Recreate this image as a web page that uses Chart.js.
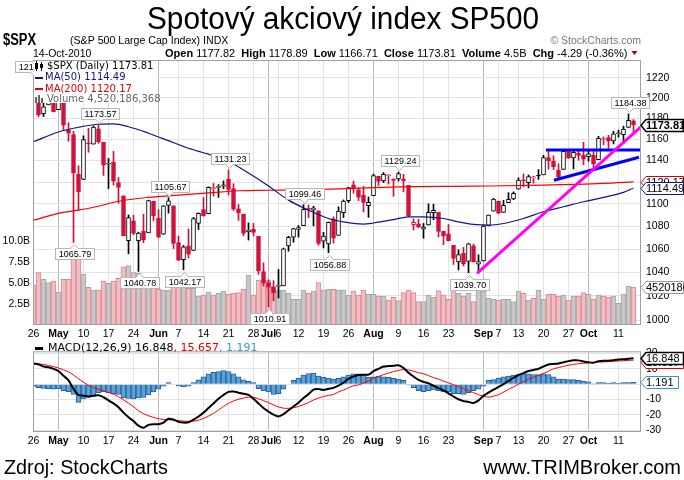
<!DOCTYPE html>
<html>
<head>
<meta charset="utf-8">
<title>SPX</title>
<script src="https://cdn.jsdelivr.net/npm/chart.js@4.4.1/dist/chart.umd.min.js"></script>
<style>
  html, body { margin: 0; padding: 0; background: #fff; }
  #page { position: relative; width: 684px; height: 480px; overflow: hidden; background: #fff; }
  .box { position: absolute; left: 0; width: 684px; }
</style>
</head>
<body>
<div id="page">
  <div class="box" style="top:0;height:340px"><canvas id="priceChart"></canvas></div>
  <div class="box" style="top:340px;height:140px"><canvas id="macdChart"></canvas></div>
</div>
<script>
// --- data (26 Apr 2010 .. 14 Oct 2010, one entry per trading day) ---
const prevClose = 1217.28;
const opens = [1217.1,1209.9,1184.6,1193.3,1206.8,1188.6,1197.5,1169.2,1164.4,1127.0,
  1122.3,1156.4,1155.4,1170.0,1157.2,1136.5,1138.5,1119.6,1107.3,1067.3,
  1084.8,1067.4,1075.5,1074.3,1102.6,1087.3,1073.0,1098.8,1098.4,1065.8,
  1050.8,1062.8,1058.8,1082.7,1095.0,1091.2,1114.0,1115.0,1116.2,1122.8,
  1113.9,1095.6,1090.9,1075.1,1077.5,1071.1,1040.6,1031.1,1027.7,1028.1,
  1028.5,1062.9,1070.5,1077.2,1080.7,1095.6,1094.5,1093.9,1066.9,1064.5,
  1086.7,1072.1,1092.2,1102.9,1117.4,1112.8,1108.1,1098.4,1107.5,1125.3,
  1121.1,1125.8,1122.1,1122.8,1122.9,1116.9,1081.5,1082.2,1077.5,1081.2,
  1092.1,1092.4,1075.6,1073.4,1063.2,1048.9,1056.3,1049.3,1062.9,1046.9,
  1049.7,1080.7,1093.6,1102.6,1092.4,1101.2,1104.6,1113.4,1121.2,1119.4,
  1123.9,1126.4,1126.6,1142.8,1139.5,1131.1,1131.7,1148.6,1142.3,1146.8,
  1145.0,1143.5,1145.0,1140.7,1159.8,1161.6,1158.4,1165.3,1164.3,1171.3,
  1177.82];
const highs = [1219.8,1211.4,1195.0,1209.4,1207.9,1205.1,1197.5,1175.9,1167.6,1135.1,
  1163.3,1170.5,1172.9,1173.57,1157.2,1141.9,1148.7,1124.3,1107.3,1090.2,
  1089.9,1074.8,1090.8,1103.5,1102.6,1094.8,1098.6,1105.67,1098.4,1071.4,
  1063.2,1077.7,1087.9,1092.0,1105.9,1115.6,1118.7,1117.7,1121.1,1131.23,
  1118.5,1099.6,1090.9,1083.1,1082.6,1071.1,1048.1,1033.6,1032.9,1042.5,
  1060.9,1071.3,1078.2,1080.8,1099.46,1099.1,1098.0,1093.9,1074.7,1083.9,
  1088.5,1097.5,1103.7,1115.0,1120.9,1114.7,1115.9,1106.4,1127.3,1125.4,
  1128.8,1126.6,1123.1,1129.24,1127.2,1116.9,1086.7,1086.3,1082.6,1100.1,
  1099.8,1092.4,1075.6,1081.6,1063.2,1059.4,1061.5,1065.2,1064.4,1055.1,
  1081.3,1090.1,1105.1,1102.6,1103.3,1110.3,1110.9,1123.9,1127.4,1126.5,
  1125.4,1131.5,1144.9,1148.6,1144.4,1136.8,1148.9,1149.9,1150.0,1148.6,
  1157.2,1150.3,1148.2,1162.8,1162.3,1163.9,1167.7,1168.7,1172.6,1184.38,
  1178.89];
const lows = [1211.1,1181.6,1181.8,1193.3,1186.3,1188.6,1168.1,1158.2,1065.79,1094.2,
  1122.3,1147.7,1155.4,1156.1,1126.1,1114.0,1117.2,1100.7,1071.6,1055.9,
  1072.7,1040.78,1065.6,1074.3,1084.8,1069.9,1072.9,1091.8,1060.5,1049.9,
  1042.17,1052.3,1058.8,1077.2,1089.0,1091.2,1107.1,1105.9,1113.9,1108.2,
  1094.2,1085.3,1071.6,1067.9,1071.5,1038.2,1028.3,1010.91,1015.9,1018.4,
  1028.5,1058.2,1066.0,1070.5,1080.7,1087.7,1080.5,1063.3,1061.1,1056.88,
  1065.3,1072.1,1087.9,1101.3,1109.8,1103.1,1092.8,1088.0,1107.5,1116.8,
  1119.5,1118.1,1107.0,1120.9,1111.0,1088.6,1076.7,1079.0,1069.5,1081.2,
  1085.8,1070.7,1063.9,1067.1,1046.7,1042.0,1045.4,1039.70,1048.8,1040.9,
  1049.7,1080.4,1093.6,1091.2,1092.4,1101.2,1103.9,1113.4,1115.6,1114.6,
  1118.9,1122.4,1126.6,1131.9,1131.6,1122.8,1131.7,1142.0,1132.1,1140.3,
  1136.1,1139.4,1131.9,1140.7,1154.9,1151.4,1155.6,1162.0,1155.7,1171.3,
  1166.71];
const closes = [1212.1,1183.7,1191.4,1206.8,1186.7,1202.3,1173.6,1165.9,1128.2,1110.9,
  1159.7,1155.8,1171.7,1157.4,1135.7,1136.9,1120.8,1115.1,1071.6,1087.7,
  1073.7,1074.0,1068.0,1103.1,1089.4,1070.7,1098.4,1102.8,1064.9,1050.5,
  1062.0,1055.7,1086.8,1091.6,1089.6,1115.2,1114.6,1116.0,1117.5,1113.2,
  1095.3,1092.0,1073.7,1076.8,1074.6,1041.2,1030.7,1027.4,1022.6,1028.1,
  1060.3,1070.3,1078.0,1078.8,1095.3,1095.2,1096.5,1064.9,1071.3,1083.5,
  1069.6,1093.7,1102.7,1115.0,1113.8,1106.1,1101.5,1101.6,1125.9,1120.5,
  1127.2,1125.8,1121.6,1127.8,1121.1,1089.5,1083.6,1079.3,1079.4,1092.5,
  1094.2,1075.6,1071.7,1067.4,1051.9,1055.3,1047.2,1064.6,1048.9,1049.3,
  1080.3,1090.1,1104.5,1091.8,1098.9,1104.2,1109.6,1121.9,1121.1,1125.1,
  1124.7,1125.6,1142.7,1139.8,1134.3,1124.8,1148.7,1142.2,1147.7,1144.7,
  1141.2,1146.2,1137.0,1160.8,1160.0,1158.1,1165.2,1165.3,1169.8,1178.1,
  1173.81];
// volume in billions of shares
const volumes = [4.76,6.23,5.43,5.04,5.24,3.93,5.43,5.43,8.0,7.9,
  6.03,4.48,4.17,4.17,5.24,4.96,5.24,5.55,6.94,7.06,
  6.23,6.15,5.24,4.36,4.36,4.25,4.17,4.17,4.88,4.88,
  4.88,4.36,4.36,3.45,3.57,3.93,3.57,3.77,4.05,3.65,
  3.77,3.85,4.25,5.95,3.57,5.36,5.36,5.3,4.48,4.17,
  4.17,3.77,3.05,3.05,4.17,3.77,4.05,5.04,4.17,4.25,
  4.25,4.2,4.17,3.57,4.05,3.57,4.17,3.65,3.65,3.45,
  3.45,2.98,3.3,2.9,3.85,4.17,3.85,2.78,2.78,3.57,
  3.3,4.1,3.57,3.05,3.97,3.77,3.45,3.77,2.78,4.17,
  4.05,3.17,3.05,2.98,3.05,3.05,2.78,4.05,3.77,2.98,
  3.17,4.17,3.05,3.65,3.65,3.45,3.57,2.98,3.45,3.45,
  3.85,3.65,3.05,3.57,3.45,3.3,3.45,2.58,3.69,4.64,
  4.52];

// moving averages, read at selected days
const ma50Day = [0,5,9,13,16,19,23,27,31,35,39,43,47,51,55,59,62,66,68,72,75,78,82,85,88,91,94,98,102,106,110,114,118,120];
const ma50 = [1157.6,1167,1171.5,1174.4,1174.7,1172,1165.8,1158.7,1151.5,1145.9,1139,1128.3,1116.4,1103.5,1094.5,1087,1084,1082,1083,1086,1088.5,1088.5,1087,1084,1081.7,1081,1082.5,1087,1093,1097.5,1102,1106,1110.5,1114.49];
const ma200Day = [0,5,9,13,17,23,29,35,41,47,53,61,73,88,102,114,120];
const ma200 = [1085.5,1091.5,1094.5,1098,1102.5,1106,1108,1110,1112,1112.5,1112.8,1113.8,1115.5,1116.2,1117.1,1118.7,1120.17];

// hand-drawn trendlines [day, price]
const resistLine = [[102.5, 1149.8], [121.5, 1149.8]];
const risingLine = [[104.1, 1121.7], [121.1, 1143.0]];
const trendLine = [[88.7, 1039.1], [121.5, 1172.0]];

// MACD(12,26,9)
const macd = [13.5,13.0,11.5,11.0,10.0,8.5,5.5,2.5,-3.0,-7.0,
  -7.5,-8.0,-7.5,-7.2,-8.5,-10.5,-12.5,-15.0,-18.5,-21.5,
  -24.0,-27.0,-28.3,-26.5,-26.0,-26.0,-25.0,-22.5,-23.0,-24.5,
  -25.0,-24.8,-23.0,-21.0,-18.5,-15.5,-12.5,-9.5,-7.0,-5.0,
  -4.8,-5.5,-6.2,-7.0,-9.5,-12.5,-15.5,-17.8,-19.8,-21.0,
  -19.5,-17.0,-14.5,-12.0,-9.0,-6.5,-3.5,-3.2,-3.8,-3.0,
  -2.4,-1.0,1.0,3.5,5.0,6.0,6.2,6.2,8.5,10.0,
  11.5,11.8,12.0,12.3,10.5,7.5,5.0,2.8,1.5,0.5,
  -1.0,-2.5,-4.0,-6.0,-8.0,-9.8,-11.0,-11.5,-12.3,-10.5,
  -7.5,-5.5,-3.5,-1.8,0.0,2.2,4.2,6.0,7.2,8.6,
  9.3,10.0,11.5,12.8,13.2,13.5,14.2,15.0,15.6,15.5,
  14.8,14.3,14.0,15.0,15.3,15.3,15.6,16.1,16.3,16.6,
  16.848];
const signal = [13.5,13.2,12.8,12.2,11.4,10.5,9.4,8.0,6.0,3.5,
  1.3,-0.8,-2.3,-3.3,-4.3,-5.3,-6.6,-8.1,-10.2,-12.4,
  -14.6,-17.3,-19.2,-20.5,-21.6,-22.5,-23.0,-23.2,-23.4,-23.7,
  -24.0,-24.2,-24.0,-23.4,-22.3,-20.8,-19.0,-16.8,-14.5,-12.5,
  -10.9,-9.8,-9.0,-8.5,-8.5,-9.5,-10.7,-12.0,-13.5,-14.8,
  -15.6,-15.7,-15.3,-14.5,-13.3,-11.9,-10.3,-9.0,-8.0,-7.3,
  -6.7,-5.0,-3.8,-2.3,-1.0,-0.5,0.8,2.0,3.8,5.0,
  6.2,7.2,8.2,9.0,9.5,9.3,8.4,7.5,6.8,5.6,
  4.3,3.3,2.0,0.8,-0.3,-1.6,-3.0,-4.3,-5.5,-6.8,
  -7.8,-8.4,-7.8,-6.8,-5.2,-3.3,-1.7,0.0,1.7,3.2,
  4.5,5.7,7.0,8.5,10.0,10.8,11.6,12.3,12.9,13.3,
  13.6,13.8,14.1,14.3,14.5,14.7,14.9,15.1,15.3,15.5,
  15.657];
const hist = [-1.5,-2.3,-2.7,-2.9,-3.2,-3.0,-4.2,-4.8,-6.7,-11.8,
  -9.5,-8.6,-8.0,-5.5,-5.1,-5.5,-6.1,-6.7,-9.0,-9.3,
  -9.5,-9.0,-8.6,-7.0,-5.1,-3.2,-1.3,1.0,0.0,-1.3,
  -1.7,-1.3,1.0,2.9,4.8,6.7,7.8,8.2,8.8,8.2,
  6.7,4.8,2.9,1.9,1.0,-2.9,-4.2,-5.1,-6.7,-6.1,
  -3.2,0.0,2.5,4.0,5.9,6.9,7.2,5.3,4.4,4.0,
  3.4,3.8,4.8,5.9,6.7,6.7,5.9,4.4,4.8,5.3,
  4.8,4.4,3.8,3.4,2.5,-0.4,-2.3,-4.2,-4.8,-4.2,
  -3.8,-4.2,-4.8,-5.1,-6.1,-6.1,-6.7,-5.5,-4.2,-3.2,
  -1.3,2.5,3.0,4.0,4.8,5.3,5.9,6.3,6.7,6.7,
  6.3,6.3,6.7,6.3,4.8,3.4,3.4,3.0,3.0,2.5,
  2.1,1.5,0.2,1.0,1.0,0.6,1.0,0.6,1.0,1.1,
  1.191];

// date axis
const tickDay = [0,5,10,15,20,25,29,34,39,44,47,49,53,58,63,68,73,78,83,90,93,97,102,107,111,117];
const tickText = ['26','May','10','17','24','Jun','7','14','21','28','Jul','6','12','19','26','Aug','9','16','23','Sep','7','13','20','27','Oct','11'];
const monthDay = [5,25,47,68,90,111];
const priceTicks = [1000,1020,1040,1060,1080,1100,1120,1140,1160,1180,1200,1220];
const volTicks = [2.5,5,7.5,10];
const macdTicks = [-30,-20,-10,0,10,20];

// price flags: day, value, 1 = above the high
const flagDay = [0,13,27,39,54,73,119,8,21,30,47,59,87];
const flagVal = [1219.80,1173.57,1105.67,1131.23,1099.46,1129.24,1184.38,1065.79,1040.78,1042.17,1010.91,1056.88,1039.70];
const flagUp = [1,1,1,1,1,1,1,0,0,0,0,0,0];

const FONT = '"Liberation Sans", Arial, sans-serif';
const VFONT = '"DejaVu Sans", Verdana, sans-serif';
const RED = '#d0103a';

function dayColor(i) {
  const prev = i === 0 ? prevClose : closes[i - 1];
  return closes[i] < prev ? RED : '#000';
}
function isDown(i) {
  const prev = i === 0 ? prevClose : closes[i - 1];
  return closes[i] < prev;
}

function dateAxis(h) {
  return {
    type: 'linear', min: -0.1, max: 121.5, offset: false,
    afterBuildTicks: s => { s.ticks = tickDay.map(v => ({ value: v })); },
    afterFit: s => { s.height = h; },
    grid: {
      offset: false, drawTicks: false,
      color: c => (c.tick && monthDay.includes(c.tick.value)) ? '#b9b9b9' : '#e3e3e3'
    },
    border: { display: false },
    ticks: {
      autoSkip: false, maxRotation: 0, minRotation: 0, padding: 3, color: '#000',
      font: c => ({ family: FONT, size: 10.5, weight: (c.tick && monthDay.includes(c.tick.value)) ? 'bold' : 'normal' }),
      callback: v => tickText[tickDay.indexOf(v)]
    }
  };
}

function tag(ctx, x0, yc, text, color, bold, lw) {
  ctx.save();
  ctx.font = (bold ? 'bold ' : '') + '11px ' + FONT;
  const w = ctx.measureText(text).width + 10;
  const h = 12, top = Math.round(yc - h / 2) + 0.5, right = Math.min(x0 + w, 683.5);
  ctx.beginPath();
  ctx.moveTo(x0, top + h / 2);
  ctx.lineTo(x0 + 5, top);
  ctx.lineTo(right, top);
  ctx.lineTo(right, top + h);
  ctx.lineTo(x0 + 5, top + h);
  ctx.closePath();
  ctx.fillStyle = '#fff';
  ctx.fill();
  ctx.lineWidth = lw || 1;
  ctx.strokeStyle = color;
  ctx.stroke();
  ctx.fillStyle = '#000';
  ctx.textAlign = 'left';
  ctx.textBaseline = 'middle';
  ctx.fillText(text, x0 + 5, top + h / 2 + 0.5);
  ctx.restore();
}

function flag(ctx, px, py, text, up) {
  ctx.font = '9px ' + FONT;
  const w = Math.round(ctx.measureText(text).width) + 6, h = 11;
  px = Math.round(px) + 0.5;
  let bx = Math.round(px - w / 2) + 0.5;
  if (bx < 0.5) bx = 0.5;
  const by = up ? Math.round(py - 6 - h) + 0.5 : Math.round(py + 6) + 0.5;
  ctx.fillStyle = '#fff';
  ctx.strokeStyle = '#b8b8b8';
  ctx.lineWidth = 1;
  ctx.fillRect(bx, by, w, h);
  ctx.strokeRect(bx, by, w, h);
  const ty = up ? by + h : by;
  const tip = up ? ty + 4 : ty - 4;
  ctx.beginPath();
  ctx.moveTo(px - 4, ty); ctx.lineTo(px, tip); ctx.lineTo(px + 4, ty);
  ctx.fill();
  ctx.stroke();
  ctx.fillRect(px - 3, ty - 0.5, 6, 1);
  ctx.fillStyle = '#000';
  ctx.textAlign = 'center';
  ctx.textBaseline = 'middle';
  ctx.fillText(text, bx + w / 2, by + h / 2 + 0.5);
}

function frame(chart) {
  const a = chart.chartArea, ctx = chart.ctx;
  ctx.save();
  ctx.strokeStyle = '#a0a0a0';
  ctx.lineWidth = 1;
  ctx.strokeRect(a.left + 0.5, a.top + 0.5, a.right - a.left - 1, a.bottom - a.top - 1);
  ctx.restore();
}

const priceDecor = {
  id: 'priceDecor',
  afterDatasetsDraw(chart) {
    const ctx = chart.ctx, x = chart.scales.x, y = chart.scales.y;
    frame(chart);
    ctx.save();
    flagDay.forEach((d, k) => {
      flag(ctx, x.getPixelForValue(d), y.getPixelForValue(flagVal[k]), flagVal[k].toFixed(2), flagUp[k] === 1);
    });
    // legend block
    ctx.fillStyle = '#fff';
    ctx.fillRect(34, 61, 124, 42);
    ctx.font = '10px ' + VFONT;
    ctx.textAlign = 'left';
    ctx.textBaseline = 'middle';
    // candle icon
    ctx.fillStyle = '#000';
    ctx.fillRect(36, 61, 1, 10);
    ctx.strokeStyle = '#000';
    ctx.strokeRect(35.5, 63.5, 2, 5);
    ctx.fillRect(41, 62, 1, 9);
    ctx.fillRect(40, 64, 3, 4);
    ctx.fillText('$SPX (Daily) 1173.81', 47, 66);
    ctx.fillStyle = '#14148a';
    ctx.fillRect(35, 77, 8, 2);
    ctx.fillText('MA(50) 1114.49', 45, 77.5);
    ctx.fillStyle = '#e00000';
    ctx.fillRect(35, 88, 8, 2);
    ctx.fillText('MA(200) 1120.17', 45, 89);
    ctx.fillStyle = '#666';
    ctx.fillRect(35, 97, 2, 6);
    ctx.fillRect(38, 95, 2, 8);
    ctx.fillRect(41, 98, 2, 5);
    ctx.fillText('Volume 4,520,186,368', 47, 99.5);
    ctx.restore();
  },
  afterDraw(chart) {
    const ctx = chart.ctx, y = chart.scales.y, yv = chart.scales.yv;
    const x0 = chart.chartArea.right;
    tag(ctx, x0, yv.getPixelForValue(volumes[120]), '4520186', '#999');
    tag(ctx, x0, y.getPixelForValue(ma200[ma200.length - 1]), '1120.17', '#e00000');
    tag(ctx, x0, y.getPixelForValue(ma50[ma50.length - 1]), '1114.49', '#14148a');
    tag(ctx, x0, y.getPixelForValue(closes[120]), '1173.81', '#000', true, 1.5);

    ctx.save();
    ctx.fillStyle = '#000';
    ctx.textBaseline = 'alphabetic';
    ctx.textAlign = 'left';
    ctx.font = '31px ' + FONT;
    ctx.fillText('Spotový akciový index SP500', 147, 29, 392);
    ctx.font = 'bold 16px ' + FONT;
    ctx.fillText('$SPX', 3, 45, 33);
    ctx.font = '10.6px ' + FONT;
    ctx.fillText('(S&P 500 Large Cap Index) INDX', 70, 43.5);
    ctx.fillStyle = '#777';
    ctx.textAlign = 'right';
    ctx.font = '10.5px ' + FONT;
    ctx.fillText('© StockCharts.com', 641, 44);
    ctx.textAlign = 'left';
    ctx.fillStyle = '#000';
    ctx.font = '10.5px ' + FONT;
    ctx.fillText('14-Oct-2010', 33, 57);
    const parts = [['Open', 1], [' 1177.82  ', 0], ['High', 1], [' 1178.89  ', 0], ['Low', 1], [' 1166.71  ', 0],
      ['Close', 1], [' 1173.81  ', 0], ['Volume', 1], [' 4.5B  ', 0], ['Chg', 1], [' -4.29 (-0.36%)', 0]];
    let px = 165;
    parts.forEach(p => {
      ctx.font = (p[1] ? 'bold ' : '') + '11px ' + FONT;
      ctx.fillText(p[0], px, 57);
      px += ctx.measureText(p[0]).width;
    });
    ctx.fillStyle = '#a0003a';
    ctx.beginPath();
    ctx.moveTo(px + 4, 51); ctx.lineTo(px + 10, 51); ctx.lineTo(px + 7, 55);
    ctx.closePath();
    ctx.fill();
    ctx.restore();
  }
};

const macdDecor = {
  id: 'macdDecor',
  afterDatasetsDraw(chart) {
    frame(chart);
    const ctx = chart.ctx;
    ctx.save();
    ctx.fillStyle = '#000';
    ctx.fillRect(35, 7, 8, 3);
    ctx.font = '11px ' + VFONT;
    ctx.textAlign = 'left';
    ctx.textBaseline = 'middle';
    let px = 48;
    [['MACD(12,26,9) 16.848', '#000'], [', 15.657', '#e00000'], [', 1.191', '#3399cc']].forEach(p => {
      ctx.fillStyle = p[1];
      ctx.fillText(p[0], px, 8.5);
      px += ctx.measureText(p[0]).width;
    });
    ctx.restore();
  },
  afterDraw(chart) {
    const ctx = chart.ctx, y = chart.scales.y;
    const x0 = chart.chartArea.right;
    tag(ctx, x0, y.getPixelForValue(signal[120]) + 2, '15.657', '#e00000');
    tag(ctx, x0, y.getPixelForValue(macd[120]), '16.848', '#000', false, 1.5);
    tag(ctx, x0, y.getPixelForValue(hist[120]), '1.191', '#3399cc');
    ctx.save();
    ctx.fillStyle = '#000';
    ctx.font = '20px ' + FONT;
    ctx.textBaseline = 'alphabetic';
    ctx.textAlign = 'left';
    ctx.fillText('Zdroj: StockCharts', 4, 134, 164);
    ctx.textAlign = 'right';
    ctx.fillText('www.TRIMBroker.com', 681, 134, 204);
    ctx.restore();
  }
};

const pts = (days, vals) => days.map((d, k) => ({ x: d, y: vals[k] }));
const seg = line => line.map(p => ({ x: p[0], y: p[1] }));

new Chart(document.getElementById('priceChart'), {
  type: 'bar',
  data: {
    datasets: [
      { type: 'line', data: seg(trendLine), borderColor: '#ff00ff', borderWidth: 3, pointRadius: 0, order: 0, yAxisID: 'y' },
      { type: 'line', data: seg(resistLine), borderColor: '#0000ff', borderWidth: 3, pointRadius: 0, order: 0, yAxisID: 'y' },
      { type: 'line', data: seg(risingLine), borderColor: '#0000ff', borderWidth: 3, pointRadius: 0, order: 0, yAxisID: 'y' },
      { type: 'line', data: pts(ma50Day, ma50), borderColor: '#14148a', borderWidth: 1.2, pointRadius: 0,
        cubicInterpolationMode: 'monotone', order: 1, yAxisID: 'y' },
      { type: 'line', data: pts(ma200Day, ma200), borderColor: '#ff0000', borderWidth: 1.2, pointRadius: 0,
        cubicInterpolationMode: 'monotone', order: 1, yAxisID: 'y' },
      { data: closes.map((c, i) => ({ x: i, y: [opens[i], c] })),
        backgroundColor: closes.map((c, i) => c < opens[i] ? dayColor(i) : '#fff'),
        borderColor: closes.map((c, i) => dayColor(i)),
        borderWidth: 1, borderSkipped: false, barThickness: 4, minBarLength: 1, grouped: false, order: 2, yAxisID: 'y' },
      { data: closes.map((c, i) => ({ x: i, y: [lows[i], highs[i]] })),
        backgroundColor: closes.map((c, i) => dayColor(i)),
        borderWidth: 0, barThickness: 1, grouped: false, order: 3, yAxisID: 'y' },
      { data: volumes.map((v, i) => ({ x: i, y: v })),
        backgroundColor: volumes.map((v, i) => isDown(i) ? '#efbfc4' : '#c8c8c8'),
        borderColor: volumes.map((v, i) => isDown(i) ? '#de8592' : '#a6a6a6'),
        borderWidth: 1, barThickness: 5, grouped: false, order: 5, yAxisID: 'yv' }
    ]
  },
  options: {
    responsive: true, maintainAspectRatio: false, animation: false,
    layout: { padding: { top: 60, left: 0, right: 0, bottom: 0 } },
    plugins: { legend: { display: false }, tooltip: { enabled: false } },
    scales: {
      x: dateAxis(15),
      y: {
        type: 'logarithmic', position: 'right', min: 996, max: 1238, beginAtZero: false,
        afterBuildTicks: s => { s.ticks = priceTicks.map(v => ({ value: v })); },
        afterFit: s => { s.width = 43; },
        grid: { color: '#e3e3e3', drawTicks: false },
        border: { display: false },
        ticks: { padding: 5, color: '#000', font: { family: FONT, size: 10.5 }, callback: v => String(v) }
      },
      yv: {
        type: 'linear', position: 'left', min: 0, max: 31.55,
        afterBuildTicks: s => { s.ticks = volTicks.map(v => ({ value: v })); },
        afterFit: s => { s.width = 33; },
        grid: { display: false, drawOnChartArea: false, drawTicks: false },
        border: { display: false },
        ticks: { padding: 3, color: '#000', font: { family: FONT, size: 10.5 }, callback: v => v.toFixed(1) + 'B' }
      }
    }
  },
  plugins: [priceDecor]
});

new Chart(document.getElementById('macdChart'), {
  type: 'bar',
  data: {
    datasets: [
      { type: 'line', data: macd.map((v, i) => ({ x: i, y: v })), borderColor: '#000', borderWidth: 2,
        pointRadius: 0, tension: 0.3, order: 1 },
      { type: 'line', data: signal.map((v, i) => ({ x: i, y: v })), borderColor: '#ff0000', borderWidth: 1,
        pointRadius: 0, tension: 0.3, order: 2 },
      { data: hist.map((v, i) => ({ x: i, y: v })), backgroundColor: '#5aa2d8', borderColor: '#245f98',
        borderWidth: 1, barThickness: 5, grouped: false, order: 3 }
    ]
  },
  options: {
    responsive: true, maintainAspectRatio: false, animation: false,
    layout: { padding: { top: 0, left: 33, right: 0, bottom: 30 } },
    plugins: { legend: { display: false }, tooltip: { enabled: false } },
    scales: {
      x: dateAxis(18),
      y: {
        type: 'linear', position: 'right', min: -31.1, max: 21.4,
        afterBuildTicks: s => { s.ticks = macdTicks.map(v => ({ value: v })); },
        afterFit: s => { s.width = 43; },
        grid: { color: '#e3e3e3', drawTicks: false },
        border: { display: false },
        ticks: { padding: 5, color: '#000', font: { family: FONT, size: 10.5 }, callback: v => String(v) }
      }
    }
  },
  plugins: [macdDecor]
});
</script>
</body>
</html>
